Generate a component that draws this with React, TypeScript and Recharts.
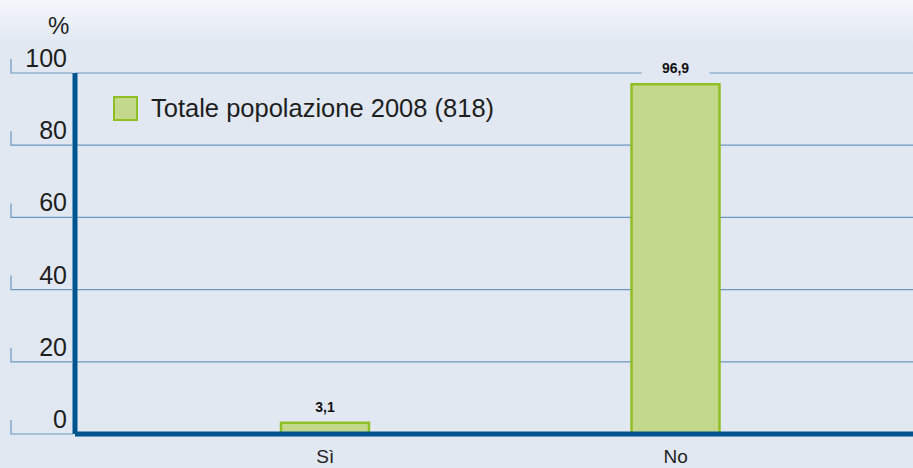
import React from "react";
import { Bar, BarChart, CartesianGrid, LabelList, XAxis, YAxis } from "recharts";

const categories = ["Sì", "No"];
const values = [3.1, 96.9];
const yTicks = [0, 20, 40, 60, 80, 100];
const seriesName = "Totale popolazione 2008 (818)";

const data = categories.map((name, i) => ({ name, value: values[i] }));

const BG = "#e1e8f2";
const GRID = "#6b97c0";
const AXIS = "#00558f";
const FONT = "'Liberation Sans', Arial, sans-serif";

function YTick(props: any) {
  const { x, y, payload } = props;
  return (
    <g>
      <path d={`M11,${y - 14} L11,${y} L${x + 6},${y}`} stroke={GRID} strokeWidth={1.2} fill="none" />
      <text x={67} y={y - 6} textAnchor="end" fontSize={25} fill="#1e1e1e" fontFamily={FONT}>
        {payload.value}
      </text>
    </g>
  );
}

function XTick(props: any) {
  const { x, y, payload } = props;
  return (
    <text x={x} y={y + 21} textAnchor="middle" fontSize={19} fill="#1e1e1e" fontFamily={FONT}>
      {payload.value}
    </text>
  );
}

function ValueLabel(props: any) {
  const { x, y, width, value } = props;
  const cx = x + width / 2;
  return (
    <g>
      <rect x={cx - 34} y={y - 24} width={68} height={18} fill={BG} />
      <text x={cx} y={y - 11} textAnchor="middle" fontSize={14} fontWeight="bold" fill="#111" fontFamily={FONT}>
        {String(value).replace(".", ",")}
      </text>
    </g>
  );
}

export default function App() {
  return (
    <div
      style={{
        position: "absolute",
        left: 0,
        top: 0,
        width: 913,
        height: 468,
        overflow: "hidden",
        background: `linear-gradient(to bottom, #f4f6fa 0px, ${BG} 45px, ${BG} 100%)`,
        fontFamily: FONT,
      }}
    >
      <div style={{ position: "absolute", left: 48, top: 12, fontSize: 24, color: "#1e1e1e" }}>%</div>
      <BarChart width={913} height={468} data={data} margin={{ top: 73, right: 0, bottom: 0, left: 0 }}>
        <CartesianGrid horizontal vertical={false} stroke={GRID} strokeWidth={1.2} />
        <YAxis
          width={75}
          domain={[0, 100]}
          ticks={yTicks}
          interval={0}
          tickLine={false}
          axisLine={{ stroke: AXIS, strokeWidth: 5 }}
          tick={<YTick />}
        />
        <XAxis
          dataKey="name"
          height={34}
          padding={{ left: 75, right: 62 }}
          tickLine={false}
          axisLine={{ stroke: AXIS, strokeWidth: 5 }}
          tick={<XTick />}
        />
        <Bar dataKey="value" barSize={88} fill="#c4d88b" stroke="#8fbe25" strokeWidth={2.5} isAnimationActive={false}>
          <LabelList dataKey="value" content={<ValueLabel />} />
        </Bar>
      </BarChart>
      <div style={{ position: "absolute", left: 113, top: 95, display: "flex", alignItems: "center" }}>
        <div style={{ width: 21, height: 21, background: "#c4d88b", border: "2.5px solid #8fbe25" }} />
        <span style={{ marginLeft: 13, fontSize: 25.5, color: "#1e1e1e", lineHeight: "26px" }}>{seriesName}</span>
      </div>
    </div>
  );
}
